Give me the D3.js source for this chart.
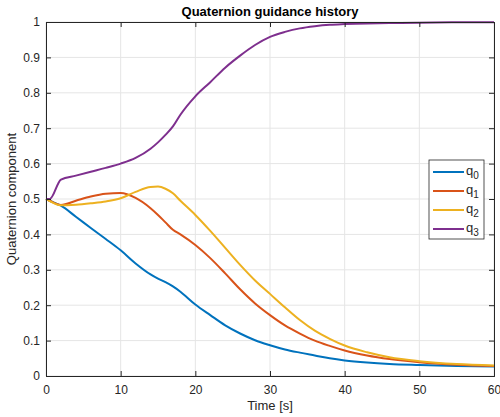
<!DOCTYPE html>
<html>
<head>
<meta charset="utf-8">
<script src="https://cdn.jsdelivr.net/npm/d3@7"></script>
<style>
  body { margin: 0; background: #fff; }
  svg text { font-family: "Liberation Sans", Arial, sans-serif; fill: #262626; }
</style>
</head>
<body>
<svg id="chart" width="500" height="417"></svg>
<script>
// sample times [s]
const time = [0, 0.5, 2, 4, 6, 8, 10, 12, 14, 15, 16, 17, 18, 20, 22, 24, 26, 28, 30, 32, 34, 36, 38, 40, 43, 46, 50, 55, 60];

const q0 = [0.5, 0.495, 0.481, 0.45, 0.418, 0.387, 0.355, 0.318, 0.287, 0.275, 0.265, 0.253, 0.238, 0.202, 0.172, 0.143, 0.12, 0.101, 0.087, 0.075, 0.066, 0.058, 0.05, 0.044, 0.038, 0.034, 0.031, 0.028, 0.027];
const q1 = [0.5, 0.495, 0.483, 0.495, 0.507, 0.515, 0.517, 0.503, 0.474, 0.455, 0.434, 0.413, 0.4, 0.37, 0.333, 0.29, 0.245, 0.205, 0.172, 0.143, 0.12, 0.1, 0.085, 0.072, 0.058, 0.048, 0.039, 0.032, 0.028];
const q2 = [0.5, 0.494, 0.482, 0.484, 0.488, 0.493, 0.502, 0.52, 0.534, 0.535, 0.529, 0.516, 0.495, 0.455, 0.41, 0.362, 0.314, 0.27, 0.232, 0.194, 0.158, 0.128, 0.105, 0.086, 0.067, 0.053, 0.042, 0.034, 0.03];
const q3 = [0.5, 0.5, 0.555, 0.566, 0.577, 0.588, 0.6, 0.616, 0.642, 0.66, 0.681, 0.705, 0.738, 0.79, 0.83, 0.871, 0.905, 0.935, 0.958, 0.972, 0.982, 0.988, 0.992, 0.994, 0.996, 0.997, 0.998, 0.999, 0.999];

const seriesNames = ['0', '1', '2', '3'];
const colors = ['#0072BD', '#D95319', '#EDB120', '#7E2F8E'];
const xTicks = [0, 10, 20, 30, 40, 50, 60];
const yTicks = [0, 0.1, 0.2, 0.3, 0.4, 0.5, 0.6, 0.7, 0.8, 0.9, 1];

const margin = { left: 46, top: 22, right: 6, bottom: 41 };
const width = 500, height = 417;

const svg = d3.select('#chart');

const x = d3.scaleLinear().domain([0, 60]).range([margin.left, width - margin.right]);
const y = d3.scaleLinear().domain([0, 1]).range([height - margin.bottom, margin.top]);

// grid
const grid = svg.append('g').attr('class', 'grid');
grid.selectAll('.gx').data(xTicks).enter().append('line')
  .attr('x1', d => x(d)).attr('x2', d => x(d))
  .attr('y1', y(0)).attr('y2', y(1))
  .style('stroke', '#e5e5e5').style('stroke-width', 1);
grid.selectAll('.gy').data(yTicks).enter().append('line')
  .attr('x1', x(0)).attr('x2', x(60))
  .attr('y1', d => y(d)).attr('y2', d => y(d))
  .style('stroke', '#e5e5e5').style('stroke-width', 1);

// lines
const series = [q0, q1, q2, q3];
const line = d3.line()
  .x((d, i) => x(time[i]))
  .y(d => y(d))
  .curve(d3.curveMonotoneX);

const plot = svg.append('g');
series.forEach((s, k) => {
  plot.append('path')
    .datum(s)
    .attr('d', line)
    .style('fill', 'none')
    .style('stroke', colors[k])
    .style('stroke-width', 2)
    .style('stroke-linejoin', 'round');
});

// axes (box with ticks on all sides, inward)
const axisColor = '#262626';
const tickLen = 5;

const xAxis = d3.axisBottom(x).tickValues(xTicks).tickSize(-tickLen).tickPadding(9);
const yAxis = d3.axisLeft(y).tickValues(yTicks).tickSize(-tickLen).tickPadding(6)
  .tickFormat(d => d3.format('')(d));

const gx = svg.append('g').attr('transform', `translate(0,${y(0)})`).call(xAxis);
const gy = svg.append('g').attr('transform', `translate(${x(0)},0)`).call(yAxis);
const gxTop = svg.append('g').attr('transform', `translate(0,${y(1)})`)
  .call(d3.axisTop(x).tickValues(xTicks).tickSize(-tickLen).tickFormat(''));
const gyRight = svg.append('g').attr('transform', `translate(${x(60)},0)`)
  .call(d3.axisRight(y).tickValues(yTicks).tickSize(-tickLen).tickFormat(''));

[gx, gy, gxTop, gyRight].forEach(g => {
  g.selectAll('.domain').style('stroke', axisColor).style('stroke-width', 1);
  g.selectAll('.tick line').style('stroke', axisColor);
  g.selectAll('text').style('font-size', '12px').style('fill', axisColor)
    .style('font-family', '"Liberation Sans", Arial, sans-serif');
});

// title and labels
svg.append('text')
  .attr('x', (x(0) + x(60)) / 2).attr('y', 16)
  .attr('text-anchor', 'middle')
  .style('font-size', '13px').style('font-weight', 'bold').style('fill', '#000')
  .text('Quaternion guidance history');

svg.append('text')
  .attr('x', (x(0) + x(60)) / 2).attr('y', 410)
  .attr('text-anchor', 'middle')
  .style('font-size', '13px')
  .text('Time [s]');

svg.append('text')
  .attr('transform', `translate(16,${(y(0) + y(1)) / 2}) rotate(-90)`)
  .attr('text-anchor', 'middle')
  .style('font-size', '13px')
  .text('Quaternion component');

// legend
const legend = svg.append('g').attr('transform', 'translate(429,160)');
legend.append('rect')
  .attr('width', 55).attr('height', 79)
  .style('fill', '#fff').style('stroke', '#262626').style('stroke-width', 0.8);

seriesNames.forEach((name, k) => {
  const row = legend.append('g').attr('transform', `translate(0,${12 + k * 19})`);
  row.append('line')
    .attr('x1', 4).attr('x2', 35).attr('y1', 0).attr('y2', 0)
    .style('stroke', colors[k]).style('stroke-width', 2);
  const t = row.append('text').attr('x', 37).attr('y', 3).style('font-size', '13px');
  t.append('tspan').text('q');
  t.append('tspan').attr('dy', 4).style('font-size', '10px').text(name);
});
</script>
</body>
</html>
